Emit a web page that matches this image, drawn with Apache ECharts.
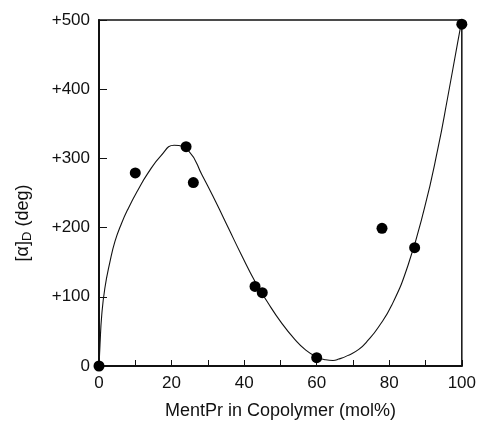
<!DOCTYPE html>
<html><head><meta charset="utf-8">
<script src="https://cdn.jsdelivr.net/npm/echarts@6/dist/echarts.min.js"></script>
<style>html,body{margin:0;padding:0;background:#fff}#c{width:479px;height:426px}</style>
</head><body><div id="c"></div>
<script>
var pointX = [0, 10, 24, 26, 43, 45, 60, 78, 87, 100];
var pointY = [0, 279, 317, 265, 115, 106, 12, 199, 171, 494];
var curveX = [0, 0.27, 0.73, 1.6, 3.0, 4.4, 6.2, 8.0, 10.7, 13.4, 17.1, 20.7, 24.8, 28.4, 32.1, 35.7, 39.3, 43.0, 46.6, 50.2, 53.9, 57.0, 60.0, 62.5, 64.5, 66.1, 68.5, 71.6, 74.3, 77.0, 80.7, 85.2, 89.7, 93.4, 96.1, 98.8, 100];
var curveY = [0, 30, 72, 112, 150, 180, 206, 227, 254, 278, 304, 319, 310, 276, 238, 199, 160, 122, 91, 63, 39, 23, 13, 9, 8, 10, 15, 24, 38, 56, 88, 146, 228, 314, 388, 466, 500];
var yTicks = ['0', '+100', '+200', '+300', '+400', '+500'];
var xTitle = 'MentPr in Copolymer (mol%)';
var yTitle = '[α]{sub|D} (deg)';

var chart = echarts.init(document.getElementById('c'));
var font = 'Liberation Sans, Arial, sans-serif';
chart.setOption({
  animation: false,
  grid: {left: 99, right: 13, top: 20, bottom: 60, show: true, borderColor: '#111', borderWidth: 1.5, backgroundColor: 'transparent'},
  graphic: [{
    type: 'text', x: 23, y: 223, rotation: Math.PI / 2,
    style: {text: yTitle, fontFamily: font, fontSize: 18, fill: '#111', align: 'center', verticalAlign: 'middle',
      rich: {sub: {fontFamily: font, fontSize: 13, fill: '#111', padding: [8, 0, 0, 0]}}}
  }],
  xAxis: {
    type: 'value', min: 0, max: 100, interval: 20,
    name: xTitle, nameLocation: 'middle', nameGap: 36,
    nameTextStyle: {fontFamily: font, fontSize: 18, color: '#111'},
    axisLine: {show: true, lineStyle: {color: '#111', width: 2}},
    axisTick: {show: true, inside: true, length: 6, lineStyle: {color: '#111', width: 1}},
    minorTick: {show: true, splitNumber: 2, length: 6, lineStyle: {color: '#111', width: 1}},
    axisLabel: {fontFamily: font, fontSize: 17, color: '#111', margin: 9},
    splitLine: {show: false}
  },
  yAxis: {
    type: 'value', min: 0, max: 500, interval: 100,
    axisLine: {show: true, lineStyle: {color: '#111', width: 2}},
    axisTick: {show: true, inside: true, length: 8, lineStyle: {color: '#111', width: 1}},
    axisLabel: {fontFamily: font, fontSize: 17, color: '#111', margin: 9,
      formatter: function (v) { return yTicks[Math.round(v / 100)]; }},
    splitLine: {show: false}
  },
  series: [
    {type: 'line', data: curveX.map(function (x, i) { return [x, curveY[i]]; }),
     smooth: 0.5, showSymbol: false, lineStyle: {color: '#111', width: 1.1}, z: 2},
    {type: 'scatter', data: pointX.map(function (x, i) { return [x, pointY[i]]; }),
     symbolSize: 11, itemStyle: {color: '#000', opacity: 1}, clip: false, z: 3}
  ]
});
</script></body></html>
